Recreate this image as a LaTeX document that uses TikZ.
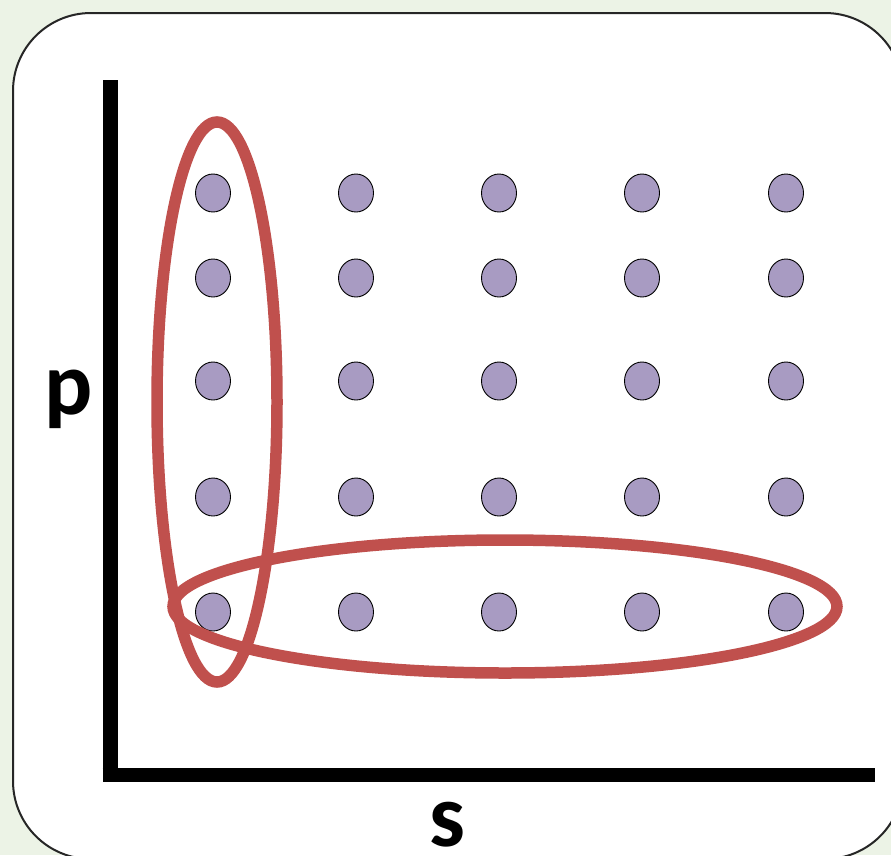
\documentclass[tikz,border=0pt]{standalone}
\usepackage{fontspec}
\setmainfont{Carlito}
\usetikzlibrary{shapes.geometric}
\definecolor{bggreen}{RGB}{236,243,230}
\definecolor{ringred}{RGB}{192,80,77}
\definecolor{dotpurple}{RGB}{168,155,194}
\begin{document}
\begin{tikzpicture}[x=1pt,y=-1pt,
  dot/.style={ellipse, draw=black, line width=0.9pt, fill=dotpurple, minimum width=35pt, minimum height=38pt, inner sep=0pt},
  ring/.style={draw=ringred, line width=11.5pt},
  axislbl/.style={font=\fontsize{90}{90}\selectfont\bfseries, inner sep=0pt, anchor=base}]
\useasboundingbox (0,0) rectangle (891,855);
\clip (0,0) rectangle (891,855);
\fill[bggreen] (0,0) rectangle (891,855);
\draw[fill=white, draw=black!85, line width=2pt, rounded corners=78pt] (13,13) rectangle (903,859);
% axes
\coordinate (ytop) at (110,80);
\coordinate (origin) at (110,774.5);
\coordinate (xend) at (875,774.5);
\draw[line width=15pt, line join=miter, line cap=butt] (ytop) -- (110,781) ;
\draw[line width=14pt, line cap=butt] (102.5,774.5) -- (xend);
\node[axislbl] (p) at (69,414) {p};
\node[axislbl] (s) at (447,846) {s};
% dots
\foreach \r/\y in {1/193,2/278,3/381,4/497,5/612}{
  \foreach \c/\x in {1/213,2/356,3/499,4/642,5/786}{
    \node[dot] (d\r\c) at (\x,\y) {};
  }
}
% rings
\draw[ring] (217,402) ellipse [x radius=60, y radius=280];
\draw[ring] (505,606.5) ellipse [x radius=332, y radius=66.5];
\end{tikzpicture}
\end{document}
